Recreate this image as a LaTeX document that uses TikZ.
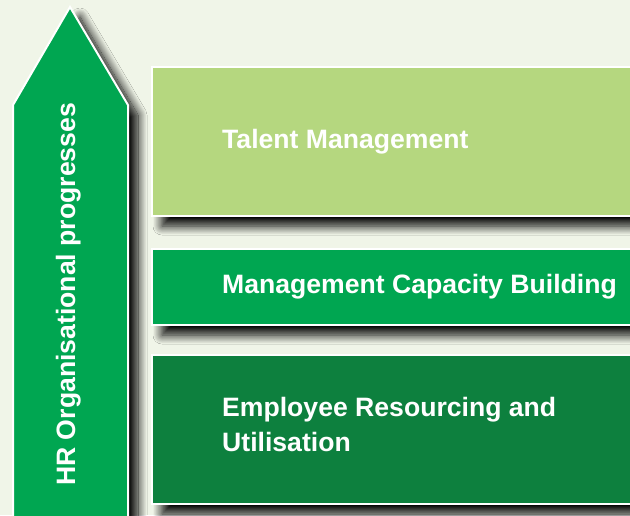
\documentclass[tikz,border=0pt]{standalone}
\usepackage{fontspec}
\setmainfont{Liberation Sans}
\usetikzlibrary{shadows.blur}
\definecolor{bg}{RGB}{240,245,232}
\definecolor{arrowgreen}{RGB}{0,166,81}
\definecolor{lightgreen}{RGB}{181,215,127}
\definecolor{darkgreen}{RGB}{13,128,62}
\tikzset{
  shad/.style={blur shadow={shadow xshift=10pt, shadow yshift=-10pt, shadow blur radius=9pt, shadow blur steps=16, shadow opacity=100}},
  panel/.style={draw=white, line width=2pt, shad},
  lbl/.style={font=\fontsize{26.6}{34.3}\selectfont\bfseries, text=white, inner sep=0pt, align=left}
}
\begin{document}
\begin{tikzpicture}[x=1pt,y=-1pt]
\useasboundingbox (0,0) rectangle (630,515);
\clip (0,0) rectangle (630,515);
\fill[bg] (0,0) rectangle (630,515);
% arrow
\path[panel, fill=arrowgreen] (13,105) -- (70,7) -- (128,105) -- (128,540) -- (13,540) -- cycle;
% boxes
\path[panel, fill=lightgreen] (152,67) rectangle (660,216);
\path[panel, fill=arrowgreen] (152,249) rectangle (660,325);
\path[panel, fill=darkgreen] (152,355) rectangle (660,504);
% texts
\node[lbl, anchor=base west] (t1) at (222,148.3) {Talent Management};
\node[lbl, anchor=base west] (t2) at (222,293.3) {Management Capacity Building};
\node[lbl, anchor=base west] (t3) at (222,451) {Employee Resourcing and\\Utilisation};
\node[lbl, rotate=90, anchor=base west] (v) at (75,486) {HR Organisational progresses};
\end{tikzpicture}
\end{document}
